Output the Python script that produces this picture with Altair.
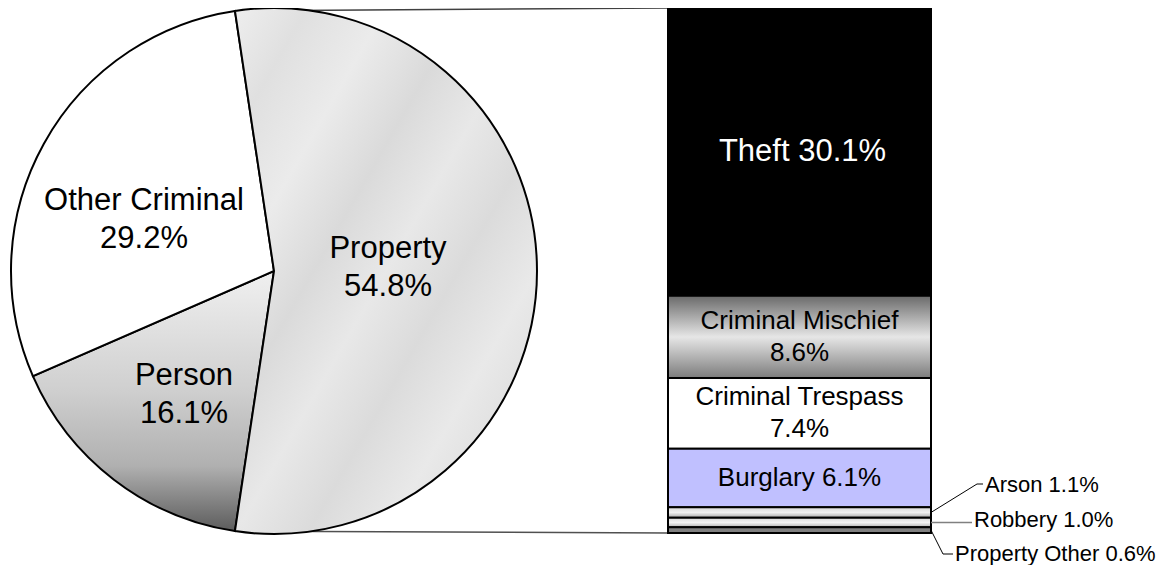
import math
import pandas as pd
import altair as alt

# ---------------- data ----------------
pie_categories = ["Person", "Other Criminal", "Property"]
pie_values = [16.1, 29.2, 54.8]

bar_categories = ["Theft", "Criminal Mischief", "Criminal Trespass", "Burglary",
                  "Arson", "Robbery", "Property Other"]
bar_values = [30.1, 8.6, 7.4, 6.1, 1.1, 1.0, 0.6]
bar_label_sep = [" ", "\n", "\n", " ", " ", " ", " "]

# ---------------- layout ----------------
FONT = "Liberation Sans"
W, H = 1152, 557
CX, CY, R = 266, 263, 263
BAR_X0, BAR_X1 = 660, 923
BAR_Y0, BAR_Y1 = 0, 525

pie = pd.DataFrame({"cat": pie_categories, "value": pie_values})
pie["end"] = pie["value"].cumsum()
pie["start"] = pie["end"] - pie["value"]
pie["label"] = [f"{c}\n{v}%" for c, v in zip(pie_categories, pie_values)]
pie_total = float(pie["value"].sum())
prop_frac = pie_values[2] / pie_total
a0 = math.pi / 2 + math.pi * prop_frac
theta_scale = alt.Scale(domain=[0, pie_total], range=[a0, a0 + 2 * math.pi])

bar = pd.DataFrame({"cat": bar_categories, "value": bar_values})
bar["y1"] = bar["value"].cumsum()
bar["y0"] = bar["y1"] - bar["value"]
bar["mid"] = (bar["y0"] + bar["y1"]) / 2
bar["label"] = [f"{c}{s}{v}%" for c, s, v in zip(bar_categories, bar_label_sep, bar_values)]
bar_total = float(bar["value"].sum())
y_scale = alt.Scale(domain=[0, bar_total], range=[BAR_Y0, BAR_Y1])


def Y(field):
    return alt.Y(field, scale=y_scale, axis=None)


def lin(stops, x1=0, y1=0, x2=0, y2=1):
    return alt.Gradient(
        gradient="linear",
        stops=[alt.GradientStop(color=c, offset=o) for o, c in stops],
        x1=x1, y1=y1, x2=x2, y2=y2,
    )


pie_fills = {
    "Person": lin([(0, "#f0f0f0"), (0.45, "#d0d0d0"), (0.75, "#b0b0b0"), (1, "#5c5c5c")]),
    "Other Criminal": "#ffffff",
    "Property": lin([(0, "#eeeeee"), (0.12, "#e0e0e0"), (0.25, "#ebebeb"), (0.38, "#dadada"),
                     (0.5, "#e8e8e8"), (0.62, "#dbdbdb"), (0.75, "#e9e9e9"), (0.88, "#dcdcdc"),
                     (1, "#e6e6e6")],
                    x1=0, y1=0, x2=1, y2=1),
}
bar_fills = {
    "Theft": "#000000",
    "Criminal Mischief": lin([(0, "#6a6a6a"), (0.5, "#e6e6e6"), (1, "#7c7c7c")]),
    "Criminal Trespass": "#ffffff",
    "Burglary": "#c0c0ff",
    "Arson": lin([(0, "#d8d8d8"), (0.5, "#f2f2f2"), (1, "#a8a8a8")]),
    "Robbery": lin([(0, "#d8d8d8"), (0.5, "#f2f2f2"), (1, "#b0b0b0")]),
    "Property Other": "#808080",
}

layers = []

# connector lines from the Property slice to the bar
ang_top = a0 - 2 * math.pi * prop_frac
ang_bot = a0
tx, ty = CX + R * math.sin(ang_top), CY - R * math.cos(ang_top)
bx, by = CX + R * math.sin(ang_bot), CY - R * math.cos(ang_bot)
conn = pd.DataFrame({"k": [0]})
layers.append(alt.Chart(conn).mark_rule(color="#404040", strokeWidth=1.5).encode(
    x=alt.value(tx), y=alt.value(ty), x2=alt.value(BAR_X0), y2=alt.value(BAR_Y0)))
layers.append(alt.Chart(conn).mark_rule(color="#505050", strokeWidth=1.5).encode(
    x=alt.value(bx), y=alt.value(by), x2=alt.value(BAR_X0), y2=alt.value(BAR_Y1)))

# pie slices
for c in pie_categories:
    layers.append(
        alt.Chart(pie).transform_filter(alt.datum.cat == c)
        .mark_arc(fill=pie_fills[c], stroke="black", strokeWidth=2, radius=R)
        .encode(theta=alt.Theta("start:Q", scale=theta_scale), theta2="end:Q",
                x=alt.value(CX), y=alt.value(CY))
    )

# bar segments
for c in bar_categories:
    layers.append(
        alt.Chart(bar).transform_filter(alt.datum.cat == c)
        .mark_rect(fill=bar_fills[c], stroke="black", strokeWidth=2)
        .encode(x=alt.value(BAR_X0), x2=alt.value(BAR_X1), y=Y("y0:Q"), y2="y1:Q")
    )

# pie labels (two lines, centred on the given point)
pie_label_pos = {"Other Criminal": (136, 211.7), "Property": (380, 259.5), "Person": (176, 386.5)}
for c, (lx, ly) in pie_label_pos.items():
    layers.append(
        alt.Chart(pie).transform_filter(alt.datum.cat == c)
        .mark_text(font=FONT, fontSize=31, lineHeight=38, lineBreak="\n", color="black",
                   align="center", baseline="middle", dy=-19)
        .encode(x=alt.value(lx), y=alt.value(ly), text="label:N")
    )

# bar labels inside
bx_mid = (BAR_X0 + BAR_X1) / 2
layers.append(
    alt.Chart(bar).transform_filter(alt.datum.cat == "Theft")
    .mark_text(font=FONT, fontSize=31, color="white", align="center", baseline="middle")
    .encode(x=alt.value(bx_mid + 3), y=Y("mid:Q"), text="label:N")
)
layers.append(
    alt.Chart(bar).transform_filter(
        alt.FieldOneOfPredicate(field="cat", oneOf=["Criminal Mischief", "Criminal Trespass"]))
    .mark_text(font=FONT, fontSize=26, lineHeight=32, lineBreak="\n", color="black",
               align="center", baseline="middle", dy=-16)
    .encode(x=alt.value(bx_mid), y=Y("mid:Q"), text="label:N")
)
layers.append(
    alt.Chart(bar).transform_filter(alt.datum.cat == "Burglary")
    .mark_text(font=FONT, fontSize=26, color="black", align="center", baseline="middle")
    .encode(x=alt.value(bx_mid), y=Y("mid:Q"), text="label:N")
)

# small outside labels with leader lines
small_pos = {"Arson": (977, 484), "Robbery": (966, 519), "Property Other": (947, 553)}
for c, (lx, ly) in small_pos.items():
    layers.append(
        alt.Chart(bar).transform_filter(alt.datum.cat == c)
        .mark_text(font=FONT, fontSize=22, color="black", align="left", baseline="alphabetic")
        .encode(x=alt.value(lx), y=alt.value(ly), text="label:N")
    )

# Arson leader
layers.append(alt.Chart(bar).transform_filter(alt.datum.cat == "Arson")
              .mark_rule(color="black", strokeWidth=1)
              .encode(x=alt.value(BAR_X1), x2=alt.value(969), y=Y("mid:Q"), y2=alt.value(476)))
layers.append(alt.Chart(conn).mark_rule(color="black", strokeWidth=1)
              .encode(x=alt.value(969), x2=alt.value(975), y=alt.value(476)))
# Robbery leader
layers.append(alt.Chart(bar).transform_filter(alt.datum.cat == "Robbery")
              .mark_rule(color="#808080", strokeWidth=1.5)
              .encode(x=alt.value(BAR_X1), x2=alt.value(964), y=Y("mid:Q")))
# Property Other leader
layers.append(alt.Chart(bar).transform_filter(alt.datum.cat == "Property Other")
              .mark_rule(color="black", strokeWidth=1)
              .encode(x=alt.value(BAR_X1), x2=alt.value(935), y=Y("mid:Q"), y2=alt.value(546)))
layers.append(alt.Chart(conn).mark_rule(color="black", strokeWidth=1)
              .encode(x=alt.value(935), x2=alt.value(945), y=alt.value(546)))

chart = (
    alt.layer(*layers)
    .properties(width=W, height=H, padding=0, background="white",
                autosize=alt.AutoSizeParams(type="none"))
    .configure_view(stroke=None)
)

chart.save("out.html", embed_options={"renderer": "svg", "actions": False})
